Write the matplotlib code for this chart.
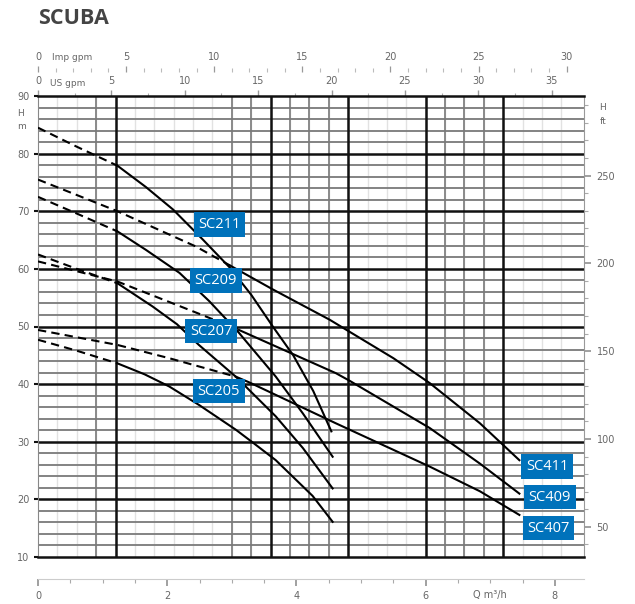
import matplotlib
matplotlib.use('Agg')
import matplotlib.pyplot as plt
import numpy as np

# Curves: flow Q [m3/h], head H [m]
# the part up to "split" is drawn dashed
sc211_q = [0, 0.6, 1.23, 1.67, 2.09, 2.55, 2.97, 3.3, 3.64, 3.95, 4.26, 4.54]
sc211_h = [84.5, 81.2, 77.9, 74.2, 70.3, 65.1, 60.2, 55.5, 49.9, 45.0, 38.8, 31.8]
sc209_q = [0, 0.6, 1.23, 1.67, 2.19, 2.65, 3.11, 3.68, 4.1, 4.56]
sc209_h = [72.5, 69.6, 66.5, 63.3, 59.3, 54.4, 48.9, 41.3, 34.9, 27.4]
sc207_q = [0, 0.6, 1.23, 1.77, 2.15, 2.49, 3.06, 3.68, 4.1, 4.56]
sc207_h = [62.5, 60.0, 57.5, 53.5, 50.4, 46.8, 41.3, 34.4, 28.9, 21.9]
sc205_q = [0, 0.6, 1.23, 1.65, 2.03, 2.49, 3.06, 3.32, 3.68, 4.25, 4.56]
sc205_h = [47.7, 45.8, 43.6, 41.7, 39.6, 36.4, 32.1, 29.9, 26.8, 20.6, 16.1]
sc411_q = [0, 1.23, 2.44, 2.97, 3.64, 4.51, 4.82, 5.5, 6.06, 6.84, 7.45]
sc411_h = [75.5, 70.0, 63.9, 60.6, 56.4, 51.2, 49.1, 44.5, 40.2, 33.2, 26.8]
sc409_q = [0, 1.23, 2.54, 3.11, 4.61, 4.82, 6.06, 6.84, 7.45]
sc409_h = [61.3, 57.8, 52.0, 49.4, 41.9, 40.6, 32.4, 26.2, 21.0]
sc407_q = [0, 1.23, 2.03, 3.06, 3.27, 4.61, 6.06, 6.84, 7.45]
sc407_h = [49.4, 46.8, 44.5, 41.3, 40.3, 33.2, 25.7, 21.4, 17.3]

names = ['SC211', 'SC209', 'SC207', 'SC205', 'SC411', 'SC409', 'SC407']
curves_q = [sc211_q, sc209_q, sc207_q, sc205_q, sc411_q, sc409_q, sc407_q]
curves_h = [sc211_h, sc209_h, sc207_h, sc205_h, sc411_h, sc409_h, sc407_h]
splits = [1.23, 1.23, 1.23, 1.23, 2.97, 3.11, 3.06]
# where the name boxes sit (Q, H)
label_q = [2.81, 2.75, 2.68, 2.80, 7.88, 7.92, 7.90]
label_h = [67.7, 58.0, 49.2, 38.8, 25.7, 20.4, 15.0]

# grid in the flow direction
vthick = [1.2, 3.6, 4.8, 6.0, 7.2]
vmid = [0.9, 3.0, 3.3, 3.9, 4.2, 4.5, 6.3, 6.6, 6.9]

fig = plt.figure(figsize=(6.35, 6.04), dpi=100)
ax = fig.add_axes([38/635, 47/604, 546/635, 461/604])
ax.set_xlim(0, 8.45)
ax.set_ylim(10, 90)

# grid
for q in np.arange(0.3, 8.4, 0.3):
    ax.axvline(q, color='#e2e2e2', lw=1.0, zorder=1)
for q in vmid:
    ax.axvline(q, color='#8a8a8a', lw=1.4, zorder=1)
for q in vthick:
    ax.axvline(q, color='#111111', lw=1.8, zorder=2)
for h in range(12, 90, 2):
    if h % 10 == 0:
        ax.axhline(h, color='#111111', lw=1.8, zorder=2)
    else:
        ax.axhline(h, color='#7a7a7a', lw=1.3, zorder=1)

# curves
for q, h, s in zip(curves_q, curves_h, splits):
    q = np.array(q)
    h = np.array(h)
    m = q <= s
    ax.plot(q[m], h[m], color='k', lw=1.5, ls=(0, (4, 2.5)), zorder=4)
    m = q >= s
    ax.plot(q[m], h[m], color='k', lw=1.5, zorder=4)

for n, x, y in zip(names, label_q, label_h):
    ax.text(x, y, n, color='white', fontsize=10.5, family='Open Sans',
            ha='center', va='center', zorder=6,
            bbox=dict(boxstyle='square,pad=0.32', fc='#0072bb', ec='none'))

# frame
ax.spines['left'].set_color('#888888')
ax.spines['right'].set_color('#999999')
ax.spines['top'].set_color('#111111')
ax.spines['top'].set_linewidth(1.8)
ax.spines['bottom'].set_color('#111111')
ax.spines['bottom'].set_linewidth(1.8)
ax.set_xticks([])
ax.set_yticks(np.arange(10, 91, 10))
ax.set_yticklabels([str(v) for v in range(10, 91, 10)])
ax.tick_params(axis='y', length=3, width=1.5, color='#111111', labelsize=7,
               labelcolor='#666666', pad=3)

tick_kw = dict(labelsize=7, labelcolor='#666666', color='#999999')

# Q axis below the chart
axq = ax.secondary_xaxis(-22/461)
axq.set_xticks([0, 2, 4, 6, 8])
axq.set_xticks(np.arange(0, 8.5, 0.5), minor=True)
axq.spines['bottom'].set_color('#cccccc')
axq.tick_params(which='major', length=5, width=1.3, **tick_kw)
axq.tick_params(which='minor', length=3, width=0.8, color='#aaaaaa')
fig.text(490/635, 1 - 595/604, 'Q m³/h', fontsize=7, color='#666666',
         ha='center', va='center')

# US gpm on the top frame
q2us = lambda q: q * 4.4029
us2q = lambda g: g / 4.4029
axu = ax.secondary_xaxis('top', functions=(q2us, us2q))
axu.set_xticks(np.arange(0, 36, 5))
axu.set_xticks(np.arange(0, 37, 2.5), minor=True)
axu.spines['top'].set_visible(False)
axu.tick_params(which='major', length=4, width=1.0, pad=3, **tick_kw)
axu.tick_params(which='minor', length=2.5, width=0.8, color='#aaaaaa')
fig.text(68/635, 1 - 83/604, 'US gpm', fontsize=6.5, color='#666666',
         ha='center', va='center')

# Imp gpm row above
q2imp = lambda q: q * 3.6662
imp2q = lambda g: g / 3.6662
axi = ax.secondary_xaxis(1 + 24/461, functions=(q2imp, imp2q))
axi.set_xticks(np.arange(0, 31, 5))
axi.set_xticks(np.arange(0, 31, 1), minor=True)
axi.spines['top'].set_visible(False)
axi.tick_params(which='major', length=4, width=0.9, pad=3, **tick_kw)
axi.tick_params(which='minor', length=3, width=0.8, color='#bbbbbb')
fig.text(72/635, 1 - 57/604, 'Imp gpm', fontsize=6.5, color='#666666',
         ha='center', va='center')

# feet on the right
m2ft = lambda h: h / 0.3048
ft2m = lambda f: f * 0.3048
axf = ax.secondary_yaxis('right', functions=(m2ft, ft2m))
axf.set_yticks([50, 100, 150, 200, 250])
axf.set_yticks(np.arange(40, 291, 10), minor=True)
axf.spines['right'].set_visible(False)
axf.tick_params(which='major', length=5, width=1.3, pad=4, **tick_kw)
axf.tick_params(which='minor', length=3, width=0.8, color='#aaaaaa')

fig.text(21/635, 1 - 113/604, 'H', fontsize=6.5, color='#666666', ha='center', va='center')
fig.text(21/635, 1 - 126/604, 'm', fontsize=6.5, color='#666666', ha='center', va='center')
fig.text(603/635, 1 - 108/604, 'H', fontsize=6.5, color='#666666', ha='center', va='center')
fig.text(603/635, 1 - 121/604, 'ft', fontsize=6.5, color='#666666', ha='center', va='center')

fig.text(38/635, 1 - 18/604, 'SCUBA', fontsize=15.5, fontweight='bold',
         family='Open Sans', color='#444444', ha='left', va='center')

fig.savefig('out.png', dpi=100)
